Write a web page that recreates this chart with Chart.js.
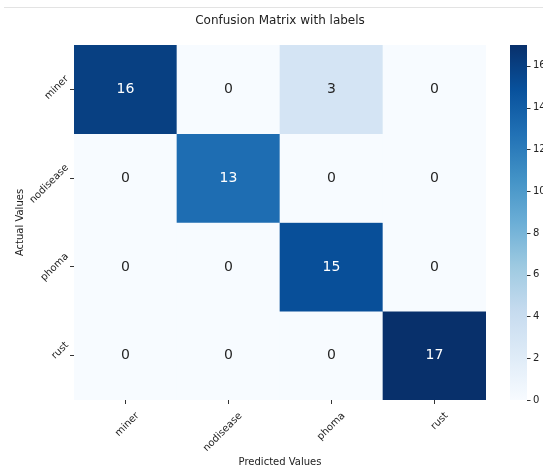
<!DOCTYPE html>
<html><head><meta charset="utf-8">
<script src="https://cdn.jsdelivr.net/npm/chart.js@4.4.1/dist/chart.umd.min.js"></script>
<style>
html,body{margin:0;padding:0;background:#fff;overflow:hidden;}
#wrap{position:relative;width:543px;height:471px;}
#rule{position:absolute;left:4px;right:0;top:7px;height:1px;background:#e3e3e3;}
canvas{position:absolute;left:0;top:0;}
</style></head><body>
<div id="wrap"><canvas id="c" width="543" height="471"></canvas><div id="rule"></div></div>
<script>
// ---- data ----
const predictedLabels = ["miner", "nodisease", "phoma", "rust"];
const actualLabels = ["miner", "nodisease", "phoma", "rust"];
const minerRow = [16, 0, 3, 0];
const nodiseaseRow = [0, 13, 0, 0];
const phomaRow = [0, 0, 15, 0];
const rustRow = [0, 0, 0, 17];
const colorbarTicks = [0, 2, 4, 6, 8, 10, 12, 14, 16];
const colorMin = 0;
const colorMax = 17;

// ---- style ----
const bluesAnchors = ["#f7fbff","#deebf7","#c6dbef","#9ecae1","#6baed6","#4292c6","#2171b5","#08519c","#08306b"];
function hexToRgb(h){return [parseInt(h.slice(1,3),16),parseInt(h.slice(3,5),16),parseInt(h.slice(5,7),16)];}
function bluesRgb(v){
  let t=(v-colorMin)/(colorMax-colorMin); t=Math.max(0,Math.min(1,t));
  const p=t*(bluesAnchors.length-1); const i=Math.min(Math.floor(p),bluesAnchors.length-2); const f=p-i;
  const a=hexToRgb(bluesAnchors[i]), b=hexToRgb(bluesAnchors[i+1]);
  return a.map((c,k)=>Math.round(c+(b[k]-c)*f));
}
function blues(v){const c=bluesRgb(v);return `rgb(${c[0]},${c[1]},${c[2]})`;}
function textColorFor(v){
  const c=bluesRgb(v).map(x=>{x/=255;return x<=0.03928?x/12.92:Math.pow((x+0.055)/1.055,2.4);});
  const L=0.2126*c[0]+0.7152*c[1]+0.0722*c[2];
  return L<0.408?"#ffffff":"#262626";
}

const rows = [minerRow, nodiseaseRow, phomaRow, rustRow];
Chart.defaults.font.family = "'DejaVu Sans', sans-serif";
Chart.defaults.font.size = 10;
Chart.defaults.color = "#222";

const datasets = rows.map((row, r) => ({
  label: actualLabels[r],
  data: row.map(() => [r, r + 1]),
  values: row,
  backgroundColor: row.map(v => blues(v)),
  borderWidth: 0,
  barPercentage: 1,
  categoryPercentage: 1,
  grouped: false,
  xAxisID: "x",
  yAxisID: "y"
}));

function noPad(s){ s.paddingTop = 0; s.paddingBottom = 0; s.paddingLeft = 0; s.paddingRight = 0; }

const cellText = {
  id: "cellText",
  afterDatasetsDraw(chart){
    const ctx = chart.ctx;
    ctx.save();
    ctx.font = "14px 'DejaVu Sans', sans-serif";
    ctx.textAlign = "center";
    ctx.textBaseline = "middle";
    chart.data.datasets.forEach((ds, di) => {
      const meta = chart.getDatasetMeta(di);
      meta.data.forEach((bar, j) => {
        const p = bar.getProps(["x","y","base"], true);
        const v = ds.values[j];
        ctx.fillStyle = textColorFor(v);
        ctx.fillText(String(v), p.x, (p.y + p.base) / 2);
      });
    });
    ctx.restore();
  }
};

const colorbar = {
  id: "colorbar",
  afterDraw(chart){
    const ctx = chart.ctx, cb = chart.scales.y2;
    const x0 = chart.chartArea.right + 24, w = 17;
    const yTop = cb.getPixelForValue(colorMax), yBot = cb.getPixelForValue(colorMin);
    const g = ctx.createLinearGradient(0, yBot, 0, yTop);
    bluesAnchors.forEach((c, i) => g.addColorStop(i / (bluesAnchors.length - 1), c));
    ctx.save();
    ctx.fillStyle = g;
    ctx.fillRect(x0, yTop, w, yBot - yTop);
    ctx.strokeStyle = "#333";
    ctx.lineWidth = 1;
    cb.ticks.forEach(t => {
      const y = Math.round(cb.getPixelForValue(t.value)) + 0.5;
      ctx.beginPath(); ctx.moveTo(x0 + w, y); ctx.lineTo(x0 + w + 3.5, y); ctx.stroke();
    });
    ctx.restore();
  }
};

new Chart(document.getElementById("c"), {
  type: "bar",
  data: { labels: predictedLabels, datasets },
  options: {
    responsive: false,
    animation: false,
    events: [],
    layout: { padding: 0 },
    plugins: {
      legend: { display: false },
      tooltip: { enabled: false },
      title: {
        display: true, text: "Confusion Matrix with labels", fullSize: false,
        font: { size: 12, weight: "normal" }, color: "#222",
        padding: { top: 14, bottom: 16.6 }
      }
    },
    scales: {
      x: {
        type: "category", position: "bottom", offset: true,
        grid: { display: true, drawOnChartArea: false, offset: false, tickLength: 4, color: "#333", tickColor: "#333" },
        border: { display: false },
        ticks: { minRotation: 45, maxRotation: 45, labelOffset: 12, padding: 6, autoSkip: false, color: "#222" },
        title: { display: true, text: "Predicted Values", color: "#222", padding: { top: 4, bottom: 3 } },
        afterFit(s){ s.height = 71; noPad(s); }
      },
      y: {
        type: "linear", position: "left", min: 0, max: 4, reverse: true,
        afterBuildTicks(s){ s.ticks = actualLabels.map((_, i) => ({ value: i + 0.5 })); },
        grid: { display: true, drawOnChartArea: false, tickLength: 4, color: "#333", tickColor: "#333" },
        border: { display: false },
        ticks: { minRotation: 45, maxRotation: 45, labelOffset: -12, padding: 3, color: "#222",
                 callback: (v, i) => actualLabels[i] },
        title: { display: true, text: "Actual Values", color: "#222", padding: { top: 14, bottom: 4 } },
        afterFit(s){ s.width = 74; noPad(s); }
      },
      y2: {
        type: "linear", position: "right", min: colorMin, max: colorMax,
        afterBuildTicks(s){ s.ticks = colorbarTicks.map(v => ({ value: v })); },
        grid: { display: false, drawTicks: false, drawOnChartArea: false },
        border: { display: false },
        ticks: { padding: 47, color: "#222" },
        afterFit(s){ s.width = 57; noPad(s); }
      }
    }
  },
  plugins: [cellText, colorbar]
});
</script>
</body></html>
